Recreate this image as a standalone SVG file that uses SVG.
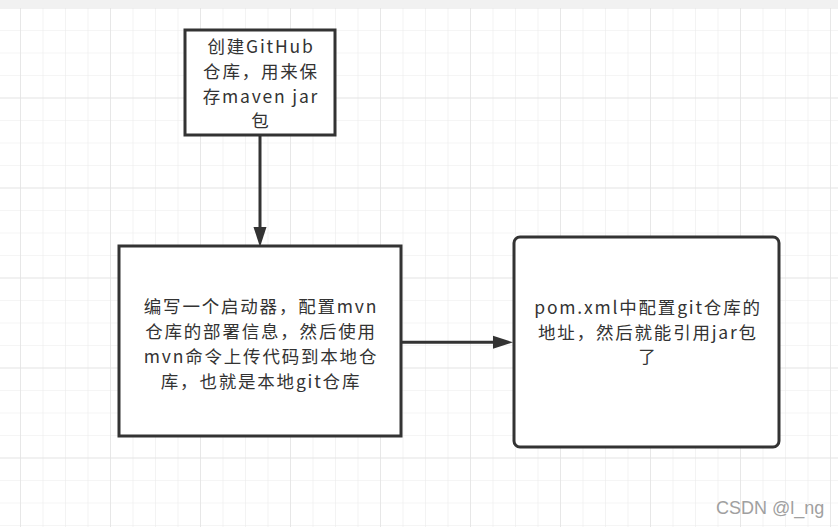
<svg xmlns="http://www.w3.org/2000/svg" width="838" height="527" viewBox="0 0 838 527">
<defs>
<pattern id="minor" x="20" y="7.5" width="22.5" height="22.5" patternUnits="userSpaceOnUse">
<path d="M0 0H22.5M0 0V22.5" fill="none" stroke="#ececec" stroke-width="1.2"/>
</pattern>
<pattern id="major" x="20" y="7.5" width="90" height="90" patternUnits="userSpaceOnUse">
<path d="M0 0H90M0 0V90" fill="none" stroke="#e2e2e2" stroke-width="1.4"/>
</pattern>
</defs>
<style>
.box{fill:#fff;stroke:#333;stroke-width:3}
.t{font-family:"Noto Sans CJK SC","Microsoft YaHei",sans-serif;font-size:17.5px;letter-spacing:1.8px;fill:#333;text-anchor:middle}
.edge{fill:none;stroke:#333;stroke-width:3}
.head{fill:#333}
.wm{font-family:"Liberation Sans",Arial,sans-serif;font-size:18px;fill:#a0a0a0}
</style>
<rect width="838" height="527" fill="#fff"/>
<rect width="838" height="527" fill="url(#minor)"/>
<rect width="838" height="527" fill="url(#major)"/>
<rect width="838" height="8" fill="#f1f1f1"/>
<g id="connectors">
<path class="edge" d="M260 135V228"/>
<path class="head" d="M253.5 227L260 247L266.5 227Z"/>
<path class="edge" d="M401 342.3H494"/>
<path class="head" d="M493 335.8L513 342.3L493 348.8Z"/>
</g>
<g id="node1">
<rect class="box" x="185" y="30" width="150" height="105"/>
<text class="t" x="261" y="53">创建GitHub</text>
<text class="t" x="261" y="78">仓库，用来保</text>
<text class="t" x="261" y="103">存maven jar</text>
<text class="t" x="261" y="127">包</text>
</g>
<g id="node2">
<rect class="box" x="119" y="246" width="282" height="190"/>
<text class="t" x="261" y="313">编写一个启动器，配置mvn</text>
<text class="t" x="261" y="338">仓库的部署信息，然后使用</text>
<text class="t" x="261" y="363">mvn命令上传代码到本地仓</text>
<text class="t" x="261" y="388">库，也就是本地git仓库</text>
</g>
<g id="node3">
<rect class="box" x="514" y="237" width="265" height="210" rx="6"/>
<text class="t" x="648" y="313.5">pom.xml中配置git仓库的</text>
<text class="t" x="648" y="338.5">地址，然后就能引用jar包</text>
<text class="t" x="648" y="362.5">了</text>
</g>
<text class="wm" x="716" y="514">CSDN @l_ng</text>
</svg>
